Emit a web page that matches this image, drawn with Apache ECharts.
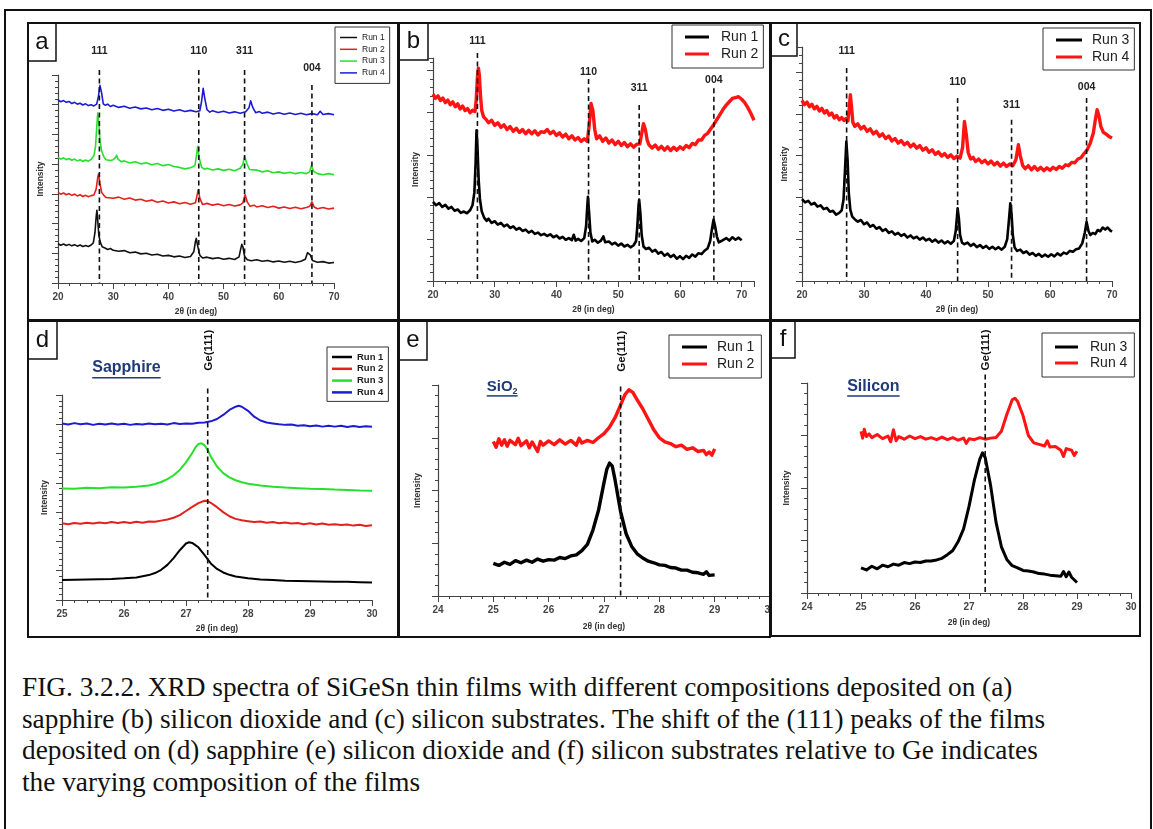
<!DOCTYPE html>
<html><head><meta charset="utf-8">
<script src="https://cdn.jsdelivr.net/npm/echarts@6/dist/echarts.min.js"></script>
<style>
body{margin:0;background:#fff;width:1153px;height:829px;overflow:hidden;position:relative;font-family:Arial,"Liberation Sans",sans-serif}
.chart{position:absolute;overflow:hidden}
.frame{position:absolute;border:2px solid #111;box-sizing:border-box;pointer-events:none}
#caption{position:absolute;left:22px;top:672px;font-family:"Liberation Serif","Times New Roman",serif;font-size:27.3px;line-height:31.5px;color:#111;white-space:nowrap}
</style></head><body>
<div class="frame" style="left:4px;top:9px;width:1148px;height:840px"></div>
<div id="pa" class="chart" style="left:27px;top:22px;width:372px;height:299px"></div>
<div id="pb" class="chart" style="left:398px;top:22px;width:373px;height:299px"></div>
<div id="pc" class="chart" style="left:770px;top:22px;width:371px;height:299px"></div>
<div id="pd" class="chart" style="left:27px;top:320px;width:372px;height:318px"></div>
<div id="pe" class="chart" style="left:398px;top:320px;width:373px;height:318px"></div>
<div id="pf" class="chart" style="left:770px;top:320px;width:371px;height:317px"></div>
<div class="frame" style="left:27px;top:22px;width:372px;height:299px"></div>
<div class="frame" style="left:398px;top:22px;width:373px;height:299px"></div>
<div class="frame" style="left:770px;top:22px;width:371px;height:299px"></div>
<div class="frame" style="left:27px;top:320px;width:372px;height:318px"></div>
<div class="frame" style="left:398px;top:320px;width:373px;height:318px"></div>
<div class="frame" style="left:770px;top:320px;width:371px;height:317px"></div>
<div id="caption">FIG. 3.2.2. XRD spectra of SiGeSn thin films with different compositions deposited on (a)<br>sapphire (b) silicon dioxide and (c) silicon substrates. The shift of the (111) peaks of the films<br>deposited on (d) sapphire (e) silicon dioxide and (f) silicon substrates relative to Ge indicates<br>the varying composition of the films</div>
<script>
// ---------------- DATA (arbitrary intensity units) ----------------
const runNames = ['Run 1','Run 2','Run 3','Run 4'];
const peakLabels = ['111','110','311','004'];

// Panel a (sapphire, full scan)
const a_run1 = [[20,13.2],[20.5,12.7],[21,13.1],[21.5,12.6],[22,13.0],[22.5,12.5],[23,12.9],[23.5,12.4],[24,12.8],[24.5,12.3],[25,12.6],[25.5,12.3],[26,12.8],[26.4,13.5],[26.7,17],[26.9,22],[27.05,24.5],[27.2,21],[27.4,16],[27.7,13.5],[28,12.2],[28.5,11.8],[29,11.3],[29.5,11.6],[30,11.0],[31,10.7],[32,10.9],[33,10.2],[34,10.4],[35,9.8],[36,10.0],[37,9.4],[38,9.7],[39,9.1],[40,9.3],[41,8.8],[42,9.1],[43,8.6],[44,8.9],[44.6,10.5],[44.9,14.0],[45.05,15.0],[45.3,12.5],[45.7,9.3],[46.2,8.4],[47,8.7],[48,8.2],[49,8.5],[50,8.0],[51,8.3],[52,7.9],[52.8,8.8],[53.1,11.5],[53.3,13.0],[53.5,12.2],[53.8,9.0],[54.3,7.8],[55,7.5],[56,7.8],[57,7.3],[58,7.6],[59,7.1],[60,7.4],[61,7.0],[62,7.3],[63,6.9],[64,7.3],[64.8,8.0],[65.2,10.2],[65.4,10.7],[65.7,9.5],[66.1,7.6],[67,7.0],[68,7.2],[69,6.7],[70,6.9]];
const a_run2 = [[20,30.5],[20.5,29.9],[21,30.3],[21.5,29.7],[22,30.1],[22.5,29.5],[23,29.9],[23.5,29.3],[24,29.7],[24.5,29.1],[25,29.5],[25.5,29.0],[26,29.4],[26.5,29.6],[26.9,31.5],[27.2,35.5],[27.35,36.7],[27.6,33.5],[27.9,30.5],[28.3,29.5],[28.7,28.8],[29,29.2],[30,28.5],[31,28.9],[32,28.2],[33,28.6],[34,27.9],[35,28.2],[36,27.5],[37,27.9],[38,27.2],[39,27.6],[40,26.9],[41,27.3],[42,26.7],[43,27.1],[44,26.5],[44.9,27.0],[45.2,29.5],[45.4,31.4],[45.7,28.5],[46.2,26.4],[47,26.8],[48,26.2],[49,26.6],[50,26.0],[51,26.4],[52,25.9],[53,26.3],[53.5,27.0],[53.9,29.7],[54.3,27.2],[54.8,25.8],[55.5,26.2],[56,25.6],[57,26.0],[58,25.4],[59,25.8],[60,25.2],[61,25.6],[62,25.1],[63,25.5],[64,25.0],[65,25.4],[65.6,25.8],[66,27.3],[66.4,25.6],[67,25.0],[68,25.4],[69,24.9],[70,25.2]];
const a_run3 = [[20,42.3],[20.5,41.7],[21,42.1],[21.5,41.5],[22,41.9],[22.5,41.3],[23,41.7],[23.5,41.1],[24,41.5],[24.5,40.9],[25,41.4],[25.5,41.0],[26,41.6],[26.5,42.8],[26.8,46],[27.0,52],[27.2,57.2],[27.4,54],[27.6,48],[27.9,44.5],[28.3,42.5],[28.7,41.5],[29,41.8],[29.5,41.2],[30,41.5],[30.4,42.2],[30.6,43.0],[30.9,41.6],[31.5,40.8],[32,41.1],[33,40.4],[34,40.8],[35,40.1],[36,40.5],[37,39.8],[38,40.2],[39,39.5],[40,39.9],[41,39.2],[42,38.9],[43,38.4],[44,38.8],[44.8,39.5],[45.1,43],[45.3,46.0],[45.6,42],[46,39.0],[46.5,38.3],[47,38.6],[48,38.0],[49,38.4],[50,37.9],[51,38.3],[52,37.8],[53,38.6],[53.5,40],[53.8,42.6],[54.2,40.3],[54.7,38.2],[55,37.6],[56,38.0],[57,37.4],[58,37.8],[59,37.1],[60,37.4],[61,36.9],[62,37.3],[63,36.8],[64,37.2],[65,36.8],[65.6,37.5],[65.9,39.5],[66.3,37.6],[67,36.8],[68,36.4],[69,36.8],[70,36.4]];
const a_run4 = [[20,61.6],[20.5,61.0],[21,61.4],[21.5,60.8],[22,61.1],[22.5,60.4],[23,60.8],[23.5,60.2],[24,60.5],[24.5,59.9],[25,60.3],[25.5,59.7],[26,60.0],[26.5,59.6],[27,60.2],[27.3,62.5],[27.6,66.5],[27.9,64.0],[28.2,60.3],[28.6,59.8],[29,60.2],[29.5,59.4],[30,59.8],[31,59.1],[32,59.5],[33,58.8],[34,59.2],[35,58.6],[36,58.9],[37,58.3],[38,58.7],[39,58.1],[40,58.5],[41,57.9],[42,58.3],[43,57.7],[44,58.1],[45,57.6],[45.7,58.0],[46.0,61.0],[46.3,65.5],[46.6,62.0],[47,58.3],[47.5,57.5],[48,58.0],[49,57.4],[50,57.8],[51,57.2],[52,57.6],[53,57.1],[54,57.6],[54.6,59.0],[54.9,61.3],[55.3,59.0],[55.8,57.3],[56.5,57.7],[57,57.1],[58,57.5],[59,56.9],[60,57.3],[61,56.8],[62,57.2],[63,56.7],[64,57.1],[65,56.6],[66,57.0],[67,56.6],[67.5,57.8],[68,56.7],[69,57.0],[70,56.6]];
const a_peakX = [27.5,45.5,53.8,66.0];
const a_peakTop = [71.7,71.7,71.7,66.6];
const a_peakLabelY = [78.0,78.0,78.0,72.3];

// Panel b (silicon dioxide, full scan)
const b_run1 = [[20,18.8],[20.5,18.0],[21,18.5],[21.5,17.6],[22,18.1],[22.5,17.2],[23,17.6],[23.5,16.7],[24,17.0],[24.5,16.2],[25,16.5],[25.5,16.1],[26,16.8],[26.4,18.0],[26.7,21],[26.9,28],[27.05,35.8],[27.2,32],[27.4,24],[27.6,19.5],[27.9,16.5],[28.3,15.0],[28.7,14.3],[29,14.8],[29.5,13.8],[30,14.2],[30.5,13.4],[31,13.8],[31.5,13.0],[32,13.4],[32.5,12.6],[33,13.0],[33.5,12.2],[34,12.6],[34.5,11.9],[35,12.2],[35.5,11.5],[36,11.9],[36.5,11.2],[37,11.5],[37.5,10.9],[38,11.2],[38.5,10.7],[39,11.1],[39.5,10.4],[40,10.8],[40.5,10.1],[41,10.5],[41.5,9.8],[42,10.2],[42.5,9.7],[42.8,11.0],[43.1,9.6],[43.5,10.0],[44,9.5],[44.5,10.2],[44.8,13],[45.0,18],[45.1,20.0],[45.3,16],[45.5,11.5],[45.8,9.4],[46.2,9.8],[46.7,9.1],[47.2,9.6],[47.6,10.6],[47.9,9.2],[48.5,9.4],[49,8.7],[49.5,9.1],[50,8.4],[50.5,8.9],[51,8.2],[51.5,8.6],[52,8.0],[52.5,8.5],[52.9,9.5],[53.1,13],[53.3,18],[53.4,19.3],[53.6,16],[53.8,11],[54.1,8.2],[54.5,7.6],[55,7.9],[55.5,7.0],[56,7.4],[56.5,6.5],[57,6.9],[57.5,6.0],[58,6.5],[58.5,5.7],[59,6.2],[59.5,5.3],[60,5.9],[60.5,5.2],[61,6.0],[61.5,5.5],[62,6.3],[62.5,5.8],[63,6.6],[63.5,6.4],[64,7.2],[64.5,7.8],[64.9,9.5],[65.2,12.5],[65.45,14.6],[65.7,13],[66,10.5],[66.3,9.2],[66.7,9.5],[67,9.2],[67.5,10.2],[68,9.6],[68.5,10.4],[69,9.8],[69.5,10.3],[70,9.7]];
const b_run2 = [[20,44.4],[20.4,43.4],[20.8,44.0],[21.2,42.9],[21.6,43.5],[22,42.4],[22.4,43.0],[22.8,41.9],[23.2,42.6],[23.6,41.4],[24,42.1],[24.4,40.9],[24.8,41.6],[25.2,40.5],[25.6,41.0],[26,40.0],[26.4,40.6],[26.8,40.3],[27.0,43],[27.2,48.5],[27.35,50.6],[27.5,49],[27.7,44],[27.9,40.5],[28.2,39.0],[28.6,38.4],[29,37.6],[29.5,38.2],[30,37.0],[30.5,37.6],[31,36.5],[31.5,37.1],[32,36.0],[32.5,36.7],[33,35.6],[33.5,36.3],[34,35.3],[34.5,36.0],[35,35.0],[35.5,35.8],[36,35.0],[36.5,35.7],[37,34.7],[37.5,35.5],[38,35.3],[38.5,36.0],[39,35.0],[39.5,35.6],[40,34.6],[40.5,35.2],[41,34.2],[41.5,34.9],[42,33.8],[42.5,34.5],[43,33.5],[43.5,34.1],[44,33.2],[44.5,33.8],[45,33.2],[45.3,37],[45.6,42.2],[45.9,40.5],[46.2,36],[46.5,33.8],[47,34.5],[47.5,33.2],[48,34.0],[48.5,32.8],[49,33.5],[49.5,32.4],[50,33.2],[50.5,32.2],[51,32.9],[51.5,31.9],[52,32.6],[52.5,31.8],[53,32.5],[53.5,32.6],[53.8,35],[54.1,37.4],[54.4,36],[54.7,33.5],[55,32.3],[55.5,31.6],[56,32.3],[56.5,31.3],[57,32.0],[57.5,31.1],[58,31.9],[58.5,31.0],[59,31.8],[59.5,31.1],[60,31.9],[60.5,31.3],[61,32.2],[61.5,31.7],[62,32.7],[62.5,32.4],[63,33.5],[63.5,33.5],[64,34.6],[64.5,35.1],[65,36.2],[65.5,37.2],[66,38.4],[66.5,39.6],[67,40.8],[67.5,41.8],[68,42.6],[68.5,43.4],[69,43.6],[69.5,43.8],[70,43.2],[70.5,42.4],[71,41.2],[71.5,39.8],[72,38.2]];
const b_peakX = [27.2,45.2,53.4,65.5];
const b_peakTop = [54.2,48.0,41.8,45.8];
const b_peakLabelY = [57.0,49.6,45.8,47.7];

// Panel c (silicon, full scan)
const c_run3 = [[20,19.6],[20.5,18.8],[21,19.2],[21.5,18.3],[22,18.7],[22.5,17.8],[23,18.1],[23.5,17.2],[24,17.5],[24.5,16.6],[25,16.8],[25.5,15.9],[26,16.3],[26.4,16.9],[26.7,19.5],[26.95,27],[27.15,33.4],[27.35,29],[27.55,21],[27.8,17],[28.1,15.4],[28.5,14.8],[29,14.2],[29.5,14.6],[30,13.6],[30.5,14.0],[31,13.0],[31.5,13.4],[32,12.5],[32.5,12.9],[33,12.0],[33.5,12.4],[34,11.5],[34.5,11.9],[35,11.1],[35.5,11.5],[36,10.8],[36.5,11.2],[37,10.4],[37.5,10.9],[38,10.2],[38.5,10.6],[39,9.9],[39.5,10.4],[40,9.7],[40.5,10.1],[41,9.4],[41.5,9.9],[42,9.2],[42.5,9.7],[43,9.0],[43.5,9.5],[44,8.9],[44.5,9.6],[44.8,12],[45.0,15.5],[45.1,17.4],[45.3,15],[45.5,11],[45.8,9.2],[46.2,8.8],[46.7,9.2],[47.2,8.4],[47.7,8.9],[48.2,8.1],[48.7,8.6],[49.2,7.9],[49.7,8.4],[50.2,7.7],[50.7,8.2],[51.2,7.6],[51.7,8.1],[52.2,7.5],[52.7,8.2],[53.1,10],[53.4,15],[53.6,18.6],[53.8,16],[54.0,11],[54.3,8.0],[54.7,7.2],[55.2,7.5],[55.7,6.7],[56.2,7.1],[56.7,6.3],[57.2,6.7],[57.7,6.0],[58.2,6.5],[58.7,5.8],[59.2,6.3],[59.7,5.8],[60.2,6.4],[60.7,5.9],[61.2,6.6],[61.7,6.1],[62.2,6.8],[62.7,6.5],[63.2,7.2],[63.7,7.0],[64.2,7.6],[64.7,7.8],[65.2,9.0],[65.6,11.5],[65.9,14.1],[66.2,12.0],[66.5,11.0],[66.9,11.5],[67.3,11.2],[67.7,12.2],[68.1,11.9],[68.5,12.8],[68.9,12.3],[69.3,12.8],[69.7,12.1],[70,11.8]];
const c_run4 = [[20,43.2],[20.4,42.2],[20.8,42.8],[21.2,41.7],[21.6,42.3],[22,41.2],[22.4,41.8],[22.8,40.7],[23.2,41.3],[23.6,40.2],[24,40.8],[24.4,39.7],[24.8,40.2],[25.2,39.0],[25.6,39.6],[26,38.6],[26.4,39.1],[26.8,38.4],[27.1,38.9],[27.4,38.3],[27.6,41],[27.8,44.6],[28.0,41.5],[28.2,38],[28.5,37.0],[29,37.6],[29.5,36.4],[30,37.0],[30.5,35.8],[31,36.4],[31.5,35.2],[32,35.8],[32.5,34.6],[33,35.2],[33.5,34.1],[34,34.7],[34.5,33.5],[35,34.1],[35.5,33.0],[36,33.6],[36.5,32.6],[37,33.2],[37.5,32.1],[38,32.8],[38.5,31.8],[39,32.4],[39.5,31.3],[40,31.9],[40.5,30.8],[41,31.4],[41.5,30.3],[42,30.9],[42.5,29.9],[43,30.5],[43.5,29.6],[44,30.2],[44.5,29.3],[45,29.9],[45.5,29.4],[45.9,32],[46.2,38.2],[46.5,35],[46.8,30.8],[47.2,29.2],[47.6,29.6],[48,28.6],[48.5,29.2],[49,28.3],[49.5,28.9],[50,28.0],[50.5,28.7],[51,27.8],[51.5,28.4],[52,27.5],[52.5,28.2],[53,27.4],[53.5,28.0],[54,27.6],[54.5,29.0],[54.9,32.6],[55.2,30.0],[55.6,27.6],[56,26.9],[56.5,27.6],[57,26.6],[57.5,27.4],[58,26.5],[58.5,27.2],[59,26.4],[59.5,27.1],[60,26.5],[60.5,27.2],[61,26.7],[61.5,27.4],[62,27.0],[62.5,27.8],[63,27.6],[63.5,28.4],[64,28.3],[64.5,29.2],[65,29.5],[65.5,30.5],[66,31.4],[66.5,33.0],[67,35.5],[67.3,38.5],[67.6,41.0],[67.9,39.5],[68.2,37.0],[68.6,35.6],[69,35.2],[69.5,34.6],[70,34.2]];
const c_peakX = [27.2,45.1,53.8,65.9];
const c_peakTop = [51.0,43.8,38.6,43.8];
const c_peakLabelY = [55.0,47.6,42.0,46.4];

// Panel d (sapphire, (111) region)
const d_run1 = [[25,6.8],[25.2,6.9],[25.4,7.0],[25.6,7.1],[25.8,7.2],[26.0,7.4],[26.2,7.7],[26.4,8.5],[26.5,9.2],[26.6,10.3],[26.7,12.0],[26.8,14.3],[26.9,17.0],[27.0,19.3],[27.05,19.7],[27.1,19.5],[27.2,18.0],[27.3,15.3],[27.4,12.5],[27.5,10.6],[27.6,9.4],[27.7,8.6],[27.8,8.0],[28.0,7.4],[28.2,7.0],[28.4,6.8],[28.6,6.6],[28.8,6.5],[29.0,6.4],[29.2,6.3],[29.4,6.2],[29.6,6.2],[29.8,6.1],[30.0,6.0]];
const d_run2 = [[25,26.2],[25.1,25.9],[25.2,26.3],[25.3,26.0],[25.4,26.4],[25.5,26.1],[25.6,26.5],[25.7,26.2],[25.8,26.6],[25.9,26.3],[26.0,26.6],[26.1,26.3],[26.2,26.7],[26.3,26.4],[26.4,26.8],[26.5,26.7],[26.6,27.1],[26.7,27.5],[26.8,28.1],[26.9,29.0],[27.0,30.4],[27.1,31.8],[27.2,33.1],[27.3,33.9],[27.35,33.8],[27.4,33.2],[27.5,31.7],[27.6,30.0],[27.7,28.6],[27.8,27.7],[27.9,27.2],[28.0,26.9],[28.1,26.6],[28.2,26.8],[28.3,26.4],[28.4,26.6],[28.5,26.2],[28.6,26.5],[28.7,26.1],[28.8,26.3],[28.9,25.9],[29.0,26.2],[29.1,25.8],[29.2,26.1],[29.3,25.7],[29.4,25.9],[29.5,25.6],[29.6,25.8],[29.7,25.4],[29.8,25.7],[29.9,25.3],[30.0,25.5]];
const d_run3 = [[25,38.1],[25.2,38.0],[25.4,38.3],[25.6,38.2],[25.8,38.5],[26.0,38.4],[26.2,38.7],[26.4,39.1],[26.5,39.6],[26.6,40.3],[26.7,41.3],[26.8,42.6],[26.9,44.4],[27.0,47.0],[27.1,50.2],[27.15,52.0],[27.2,53.3],[27.25,53.5],[27.3,52.8],[27.35,51.2],[27.4,49.0],[27.5,45.6],[27.6,43.3],[27.7,41.9],[27.8,40.9],[27.9,40.2],[28.0,39.7],[28.2,39.1],[28.4,38.7],[28.6,38.4],[28.8,38.2],[29.0,38.0],[29.2,37.9],[29.4,37.7],[29.6,37.6],[29.8,37.4],[30.0,37.3]];
const d_run4 = [[25,60.3],[25.1,59.9],[25.2,60.4],[25.3,60.0],[25.4,60.3],[25.5,59.8],[25.6,60.2],[25.7,59.9],[25.8,60.3],[25.9,59.9],[26.0,60.2],[26.1,59.8],[26.2,60.1],[26.3,59.9],[26.4,60.3],[26.5,60.0],[26.6,60.2],[26.7,59.9],[26.8,60.4],[26.9,60.1],[27.0,60.3],[27.1,60.2],[27.2,60.5],[27.3,60.6],[27.4,61.0],[27.5,61.8],[27.6,63.2],[27.7,64.9],[27.8,66.0],[27.85,66.3],[27.9,66.0],[28.0,64.6],[28.1,62.6],[28.2,61.3],[28.3,60.6],[28.4,60.3],[28.5,60.0],[28.6,59.8],[28.7,59.9],[28.8,59.5],[28.9,59.7],[29.0,59.3],[29.1,59.6],[29.2,59.2],[29.3,59.5],[29.4,59.2],[29.5,59.5],[29.6,59.1],[29.7,59.4],[29.8,59.1],[29.9,59.3],[30.0,59.2]];
const d_ge = [[27.35,72.2,85.3]];
const d_substrate = [[26.04,79.3]];

// Panel e (silicon dioxide, (111) region)
const e_run1 = [[25,6.2],[25.1,5.8],[25.2,6.4],[25.3,6.0],[25.4,6.7],[25.5,6.3],[25.6,6.8],[25.7,6.4],[25.8,7.0],[25.9,6.6],[26.0,6.9],[26.1,6.8],[26.2,7.3],[26.3,7.1],[26.4,7.6],[26.5,7.8],[26.6,8.6],[26.7,9.8],[26.8,12.5],[26.9,16.2],[27.0,21.5],[27.05,24.0],[27.1,25.2],[27.15,24.6],[27.2,22.0],[27.3,16.0],[27.4,11.8],[27.5,9.4],[27.6,8.0],[27.7,7.2],[27.8,6.6],[27.9,6.3],[28.0,5.9],[28.1,5.8],[28.2,5.4],[28.3,5.3],[28.4,4.9],[28.5,4.9],[28.6,4.5],[28.7,4.4],[28.8,4.1],[28.85,4.6],[28.9,3.9],[29.0,4.0]];
const e_run2 = [[25,29.3],[25.05,28.2],[25.1,29.8],[25.15,28.6],[25.2,29.6],[25.25,28.4],[25.3,29.5],[25.4,28.7],[25.45,29.9],[25.5,28.5],[25.6,29.4],[25.65,28.1],[25.7,29.2],[25.8,27.4],[25.85,29.3],[25.9,28.6],[26.0,29.4],[26.1,28.7],[26.2,29.6],[26.3,28.8],[26.4,29.5],[26.5,28.6],[26.55,29.9],[26.6,29.0],[26.7,29.5],[26.8,29.1],[26.9,30.0],[27.0,30.8],[27.1,32.0],[27.2,33.8],[27.3,36.2],[27.38,38.2],[27.45,39.1],[27.52,38.6],[27.6,37.2],[27.7,35.5],[27.8,33.5],[27.9,31.5],[28.0,30.0],[28.1,29.2],[28.2,28.9],[28.3,28.3],[28.4,28.6],[28.5,27.8],[28.6,28.1],[28.7,27.4],[28.8,27.6],[28.85,26.8],[28.9,27.3],[28.95,26.7],[29.0,27.9]];
const e_ge = [[27.3,39.7,46.4]];
const e_substrate = [[25.16,39.7]];

// Panel f (silicon, (111) region)
const f_run3 = [[25,4.8],[25.1,4.4],[25.2,5.1],[25.3,4.6],[25.4,5.3],[25.5,5.0],[25.6,5.5],[25.7,5.3],[25.8,5.8],[25.9,5.6],[26.0,5.9],[26.1,5.8],[26.2,6.1],[26.3,6.1],[26.4,6.3],[26.5,6.6],[26.6,7.3],[26.7,8.1],[26.8,9.8],[26.9,12.2],[27.0,16.5],[27.1,21.5],[27.2,25.5],[27.25,26.7],[27.3,25.8],[27.4,20.5],[27.5,13.5],[27.6,8.8],[27.7,6.4],[27.8,5.2],[27.9,4.8],[28.0,4.3],[28.1,4.2],[28.2,4.0],[28.3,3.7],[28.4,3.6],[28.5,3.4],[28.6,3.3],[28.7,3.2],[28.75,4.1],[28.8,3.1],[28.85,4.0],[28.9,3.0],[29.0,2.0]];
const f_run4 = [[25,30.8],[25.03,29.5],[25.06,31.2],[25.1,29.8],[25.15,30.3],[25.2,29.6],[25.3,30.2],[25.4,29.4],[25.5,29.9],[25.55,28.8],[25.6,31.1],[25.65,29.0],[25.7,29.8],[25.8,29.3],[25.9,29.9],[26.0,29.4],[26.1,29.8],[26.2,29.3],[26.3,29.6],[26.4,29.2],[26.5,29.7],[26.6,29.2],[26.7,29.6],[26.8,29.1],[26.9,29.5],[26.95,28.5],[27.0,29.4],[27.1,29.2],[27.2,29.6],[27.3,29.3],[27.4,29.5],[27.5,29.6],[27.6,30.8],[27.7,34.0],[27.8,36.8],[27.85,37.1],[27.9,36.5],[28.0,33.8],[28.1,30.0],[28.2,28.6],[28.3,28.3],[28.4,28.0],[28.45,29.0],[28.5,27.8],[28.6,27.9],[28.7,27.2],[28.75,26.0],[28.8,27.5],[28.9,27.2],[28.95,26.2],[29.0,27.0]];
const f_ge = [[27.3,41.6,46.3]];
const f_substrate = [[25.23,39.4]];

// ---------------- RENDERING ----------------
const FONT = 'Arial, "Liberation Sans", sans-serif';
const NAVY = '#1f3a78';
const AX = '#444';
const _ctx = document.createElement('canvas').getContext('2d');
function textWidth(font, t){ _ctx.font = font; return _ctx.measureText(t).width; }

function peakRender(labels){
  return function(params, api){
    const x = api.value(0), top = api.value(1), ly = api.value(2);
    const p0 = api.coord([x, top]), p1 = api.coord([x, 0]), pl = api.coord([x, ly]);
    return {type:'group', children:[
      {type:'line', shape:{x1:p0[0],y1:p0[1],x2:p1[0],y2:p1[1]}, style:{stroke:'#111', lineWidth:1.6, lineDash:[5,3.5]}},
      {type:'text', x:pl[0], y:pl[1], style:{text:labels[params.dataIndex], font:'bold 10.5px '+FONT, fill:'#222', align:'center', verticalAlign:'middle'}}
    ]};
  };
}
function geRender(params, api){
  const x = api.value(0), top = api.value(1), ly = api.value(2);
  const p0 = api.coord([x, top]), p1 = api.coord([x, 0]), pl = api.coord([x, ly]);
  return {type:'group', children:[
    {type:'line', shape:{x1:p0[0],y1:p0[1],x2:p1[0],y2:p1[1]}, style:{stroke:'#111', lineWidth:1.6, lineDash:[5,3.5]}},
    {type:'text', x:pl[0]+1, y:pl[1], rotation:Math.PI/2, style:{text:'Ge(111)', font:'bold 11.5px '+FONT, fill:'#111', align:'center', verticalAlign:'middle'}}
  ]};
}
function substrateRender(main, sub, px){
  return function(params, api){
    const p = api.coord([api.value(0), api.value(1)]);
    const f1 = 'bold '+px+'px '+FONT, f2 = 'bold '+Math.round(px*0.62)+'px '+FONT;
    const w1 = textWidth(f1, main), w2 = sub ? textWidth(f2, sub) : 0;
    const x0 = p[0] - (w1 + w2)/2;
    const kids = [{type:'text', x:x0, y:p[1], style:{text:main, font:f1, fill:NAVY, align:'left', verticalAlign:'middle'}}];
    if (sub) kids.push({type:'text', x:x0+w1, y:p[1]+px*0.32, style:{text:sub, font:f2, fill:NAVY, align:'left', verticalAlign:'middle'}});
    kids.push({type:'line', shape:{x1:x0, y1:p[1]+px*0.62, x2:x0+w1+w2, y2:p[1]+px*0.62}, style:{stroke:NAVY, lineWidth:1.5}});
    return {type:'group', children:kids};
  };
}

function panel(id, cfg){
  const chart = echarts.init(document.getElementById(id), null, {renderer:'canvas'});
  const series = cfg.lines.map(s => ({
    type:'line', name:s.name, data:s.data, symbol:'none', showSymbol:false, smooth:false,
    lineStyle:{color:s.color, width:s.width, join:'round'}, itemStyle:{color:s.color},
    silent:true, z:2
  }));
  (cfg.customs || []).forEach(c => series.push({type:'custom', renderItem:c.render, data:c.data, silent:true, clip:false, z:5, encode:{x:0,y:1}}));
  const lg = cfg.legend;
  chart.setOption({
    animation:false,
    grid:{left:cfg.grid[0], top:cfg.grid[1], width:cfg.grid[2], height:cfg.grid[3], outerBoundsMode:'none', containLabel:false},
    xAxis:{type:'value', min:cfg.x[0], max:cfg.x[1], interval:cfg.x[2],
      axisLine:{show:true, onZero:false, lineStyle:{color:AX, width:1.2}},
      axisTick:{show:true, length:6, lineStyle:{color:AX, width:1}},
      minorTick:{show:true, splitNumber:5, length:3, lineStyle:{color:AX, width:1}},
      splitLine:{show:false}, minorSplitLine:{show:false},
      axisLabel:{margin:9, fontSize:10, fontWeight:'bold', color:'#444', fontFamily:FONT, showMinLabel:true, showMaxLabel:cfg.showMax !== false, hideOverlap:false},
      name:'2θ (in deg)', nameLocation:'middle', nameGap:cfg.nameGap || 24,
      nameTextStyle:{fontSize:8.5, fontWeight:'bold', color:'#333', fontFamily:FONT}},
    yAxis:{type:'value', min:0, max:cfg.y[0], interval:cfg.y[1],
      axisLine:{show:true, onZero:false, lineStyle:{color:AX, width:1.2}},
      axisTick:{show:true, length:6, lineStyle:{color:AX, width:1}},
      minorTick:{show:true, splitNumber:5, length:3, lineStyle:{color:AX, width:1}},
      splitLine:{show:false}, minorSplitLine:{show:false},
      axisLabel:{show:false},
      name:'Intensity', nameLocation:'middle', nameGap:cfg.yNameGap || 13, nameRotate:90,
      nameTextStyle:{fontSize:8.5, fontWeight:'bold', color:'#333', fontFamily:FONT}},
    legend:{data:cfg.lines.map(s=>s.name).sort(), orient:'vertical', left:lg.left, top:lg.top,
      padding:lg.padding, itemGap:lg.gap, itemWidth:lg.iw, itemHeight:lg.ih, icon:'rect',
      borderColor:'#333', borderWidth:1, backgroundColor:'#fff', selectedMode:false,
      textStyle:{fontSize:lg.fs, fontWeight:lg.fw || 'normal', color:'#222', fontFamily:FONT, padding:[0,0,0,lg.tp || 0]}},
    graphic:[{type:'group', x:0, y:0, z:100, children:[
      {type:'rect', shape:{x:1, y:1, width:cfg.box[0], height:cfg.box[1]}, style:{fill:'#fff', stroke:'#111', lineWidth:1.5}},
      {type:'text', x:1+cfg.box[0]/2, y:1+cfg.box[1]/2, style:{text:cfg.letter, font:'24px '+FONT, fill:'#111', align:'center', verticalAlign:'middle'}}
    ]}],
    series:series
  });
}

const RED='#e3201c', GREEN='#27e02b', BLUE='#1c1cd4', BLACK='#111', BRED='#ff1414';

panel('pa', {letter:'a', box:[28,38], grid:[31,53,276,208], x:[20,70,10], y:[70,10],
  lines:[{name:runNames[0],data:a_run1,color:BLACK,width:1.6},{name:runNames[1],data:a_run2,color:RED,width:1.6},
         {name:runNames[2],data:a_run3,color:GREEN,width:1.6},{name:runNames[3],data:a_run4,color:BLUE,width:1.6}],
  customs:[{render:peakRender(peakLabels), data:a_peakX.map((x,i)=>[x,a_peakTop[i],a_peakLabelY[i]])}],
  legend:{left:308, top:5, padding:[6,5,6,5], gap:2.8, iw:17, ih:1.5, fs:8.5}});

panel('pb', {letter:'b', box:[29,37], grid:[35,36,321,223], x:[20,72,10], y:[53,10], showMax:false,
  lines:[{name:runNames[0],data:b_run1,color:'#000',width:2.6},{name:runNames[1],data:b_run2,color:BRED,width:3.4}],
  customs:[{render:peakRender(peakLabels), data:b_peakX.map((x,i)=>[x,b_peakTop[i],b_peakLabelY[i]])}],
  legend:{left:274, top:3, padding:[5,5,7,13], gap:3, iw:24, ih:3, fs:14, tp:7}});

panel('pc', {letter:'c', box:[26,33], grid:[32,25,310,234], x:[20,70,10], y:[56,10],
  lines:[{name:runNames[2],data:c_run3,color:'#000',width:2.6},{name:runNames[3],data:c_run4,color:BRED,width:3.4}],
  customs:[{render:peakRender(peakLabels), data:c_peakX.map((x,i)=>[x,c_peakTop[i],c_peakLabelY[i]])}],
  legend:{left:273, top:6, padding:[5,5,6,13], gap:3, iw:26, ih:3, fs:14, tp:5}});

panel('pd', {letter:'d', box:[29,38], grid:[35,75,310,205], x:[25,30,1], y:[70,10], nameGap:22,
  lines:[{name:runNames[0],data:d_run1,color:'#000',width:2},{name:runNames[1],data:d_run2,color:RED,width:2},
         {name:runNames[2],data:d_run3,color:GREEN,width:2},{name:runNames[3],data:d_run4,color:BLUE,width:2}],
  customs:[{render:geRender, data:d_ge},{render:substrateRender('Sapphire','',16), data:d_substrate}],
  legend:{left:300, top:27, padding:[5,5,4,5], gap:1.8, iw:20, ih:2.5, fs:9.5, fw:'bold'}});

panel('pe', {letter:'e', box:[28,39], grid:[40,65,332,211], x:[24,30,1], y:[40,10], nameGap:26, yNameGap:16,
  lines:[{name:runNames[0],data:e_run1,color:'#000',width:3.4},{name:runNames[1],data:e_run2,color:BRED,width:3.4}],
  customs:[{render:geRender, data:e_ge},{render:substrateRender('SiO','2',15), data:e_substrate}],
  legend:{left:271, top:15, padding:[5,7,7,13], gap:3, iw:25, ih:3, fs:14, tp:5}});

panel('pf', {letter:'f', box:[24,37], grid:[37,63,324,210], x:[24,30,1], y:[40,10], nameGap:25, yNameGap:16,
  lines:[{name:runNames[2],data:f_run3,color:'#000',width:3},{name:runNames[3],data:f_run4,color:BRED,width:3}],
  customs:[{render:geRender, data:f_ge},{render:substrateRender('Silicon','',16), data:f_substrate}],
  legend:{left:272, top:13, padding:[7,7,7,13], gap:2, iw:23, ih:3, fs:14, tp:7}});
</script>
</body></html>
